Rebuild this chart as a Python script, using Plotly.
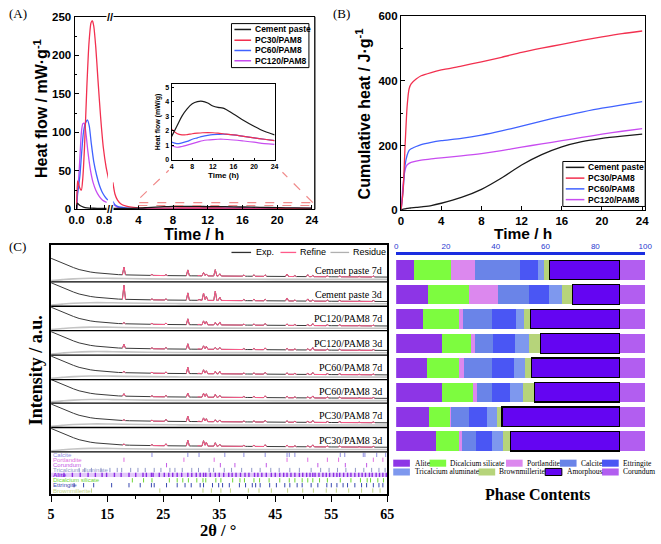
import numpy as np
import plotly.graph_objects as go

W, H = 661, 544
def px(x): return x / W
def py(y): return 1 - y / H

SANS = "Liberation Sans"
SERIF = "Liberation Serif"

# ---------------- Panel A / B series ----------------
SERIES = ["Cement paste", "PC30/PAM8", "PC60/PAM8", "PC120/PAM8"]
SERIES_COLORS = ["#1a1a1a", "#f2304f", "#4062ff", "#c84cf0"]

# (A) heat flow, early part (time in h, mW/g)
A_EARLY_T_CEM = [0, 0.02, 0.05, 0.1, 0.2, 0.3, 0.5, 0.7, 0.94]
A_EARLY_CEM = [0, 8, 7, 5, 3, 2, 1.5, 1.3, 1.2]
A_EARLY_T_PC30 = [0, 0.01, 0.03, 0.06, 0.1, 0.14, 0.18, 0.23, 0.3, 0.36, 0.42, 0.46, 0.5, 0.56, 0.62, 0.7, 0.78, 0.86, 0.94]
A_EARLY_PC30 = [0, 20, 37, 33, 27, 25, 40, 80, 160, 215, 242, 245, 238, 210, 170, 120, 80, 55, 38]
A_EARLY_T_PC60 = [0, 0.03, 0.06, 0.1, 0.15, 0.2, 0.26, 0.32, 0.37, 0.43, 0.5, 0.58, 0.66, 0.74, 0.82, 0.91]
A_EARLY_PC60 = [0, 20, 30, 45, 75, 100, 112, 116, 108, 85, 62, 45, 32, 23, 17, 12]
A_EARLY_T_PC120 = [0, 0.03, 0.06, 0.1, 0.14, 0.18, 0.22, 0.27, 0.33, 0.4, 0.48, 0.56, 0.66, 0.76, 0.88]
A_EARLY_PC120 = [0, 25, 40, 70, 100, 111, 112, 100, 75, 52, 35, 25, 17, 12, 9]

# (A) heat flow, later part (time in h, mW/g) -- also shown in the inset
A_LATE_T = [1.06, 1.3, 1.6, 2, 2.5, 3, 4, 5, 6, 7, 8, 9, 10, 11, 12, 13, 14, 16, 18, 20, 22, 24]
A_LATE_CEM = [1.2, 1.2, 1.25, 1.3, 1.35, 1.45, 1.6, 2.3, 3.0, 3.5, 3.85, 4.0, 4.02, 3.9, 3.7, 3.6, 3.55, 3.15, 2.7, 2.3, 1.95, 1.7]
A_LATE_PC30 = [35, 20, 12, 7, 4.5, 3.2, 2.1, 1.8, 1.7, 1.72, 1.78, 1.82, 1.85, 1.86, 1.85, 1.82, 1.78, 1.7, 1.6, 1.5, 1.4, 1.3]
A_LATE_PC60 = [10, 6, 4, 2.8, 2, 1.6, 1.2, 1.1, 1.15, 1.25, 1.4, 1.5, 1.6, 1.67, 1.72, 1.74, 1.75, 1.7, 1.6, 1.5, 1.4, 1.3]
A_LATE_PC120 = [8, 5, 3, 2, 1.4, 1.15, 0.95, 0.85, 0.9, 1.0, 1.1, 1.2, 1.3, 1.35, 1.38, 1.4, 1.4, 1.35, 1.28, 1.2, 1.1, 1.05]

# (B) cumulative heat (J/g)
B_T = [0, 0.2, 0.4, 0.6, 0.8, 1, 1.5, 2, 3, 4, 6, 8, 10, 12, 14, 16, 18, 20, 22, 24]
B_CEM = [0, 4, 5, 6, 7, 7.5, 9, 11, 15, 22, 40, 65, 100, 140, 172, 196, 212, 222, 229, 235]
B_PC30 = [0, 60, 200, 320, 375, 390, 405, 415, 425, 433, 445, 458, 472, 487, 500, 512, 524, 535, 545, 553]
B_PC60 = [0, 60, 140, 170, 185, 190, 197, 203, 210, 215, 222, 232, 245, 260, 275, 290, 303, 315, 325, 335]
B_PC120 = [0, 80, 125, 140, 145, 148, 152, 155, 159, 162, 168, 175, 184, 195, 205, 215, 225, 235, 244, 252]

# ---------------- Panel C: XRD ----------------
XRD_LABELS = ["Cement paste 7d", "Cement paste 3d", "PC120/PAM8 7d", "PC120/PAM8 3d",
              "PC60/PAM8 7d", "PC60/PAM8 3d", "PC30/PAM8 7d", "PC30/PAM8 3d"]
XRD_OFFSET = [217, 192, 167, 142, 117, 93, 68, 43]
BG_2T = [5, 6, 7, 8, 9, 10, 11, 12, 13, 14, 15, 17, 19, 22, 26, 30, 35, 40, 45, 50, 55, 60, 65]
BG_LEVEL = [24, 21.5, 19, 16.5, 14.5, 12.5, 11, 10, 9.2, 8.6, 8, 7.3, 6.9, 6.6, 6.3, 6.1, 5.9, 5.7, 5.5, 5.3, 5.1, 5.0, 4.8]
RES_2T = [5, 7, 9, 12, 15, 18, 22, 28, 35, 45, 55, 65]
RES_LEVEL = [1.2, 2.2, 3.0, 3.6, 3.6, 3.3, 3.0, 2.7, 2.6, 2.5, 2.5, 2.5]
PEAK_POS = [18.0, 23.0, 25.5, 29.4, 31.4, 32.2, 32.7, 34.3, 35.1, 36.0, 39.4, 41.2, 43.2, 47.1, 48.5, 50.8, 51.7, 54.3, 56.5, 60.0, 62.5]
PEAKS_CEM7 = [8, 1, 1, 6, 0.5, 3.5, 2, 6.5, 2.3, 0.5, 1.2, 1.5, 1.5, 2.5, 1, 2, 1.2, 1, 1, 0.6, 1]
PEAKS_CEM3 = [14.5, 1, 1.2, 7.5, 0.8, 7.5, 4, 9.5, 3.5, 0.6, 1.2, 1.5, 1.5, 3, 1, 2.2, 1.2, 1.2, 1, 0.6, 1]
PEAKS_PC120_7 = [1.2, 1, 1.5, 6, 0.5, 4, 3.5, 2.5, 3, 0.5, 1, 1.2, 1.8, 1.5, 1, 1, 2, 1, 1, 0.5, 0.8]
PEAKS_PC120_3 = [4, 1, 1.5, 5.5, 0.5, 3.5, 3, 2, 2, 0.5, 1, 1.2, 1.8, 1.5, 1, 1.2, 2.5, 1, 1, 0.5, 0.8]
PEAKS_PC60_7 = [1.2, 1, 1.5, 6.5, 0.5, 4, 3, 2.5, 2.5, 0.5, 1, 1.2, 1.8, 1.5, 1, 1, 2, 1, 1, 0.5, 0.8]
PEAKS_PC60_3 = [2.5, 1, 1.5, 4, 0.5, 4, 3.5, 3, 2, 0.5, 1, 1.2, 1.8, 1.5, 1, 1, 2, 1, 1, 0.5, 0.8]
PEAKS_PC30_7 = [0.8, 1, 2, 5.5, 0.5, 3.8, 3, 2, 1.8, 0.5, 1, 1.2, 1.8, 1.5, 1, 1, 2, 1, 1, 0.5, 0.8]
PEAKS_PC30_3 = [1, 1, 2, 5.8, 0.5, 5.5, 4, 3.5, 2, 0.5, 1, 1.2, 1.8, 1.5, 1, 1, 2, 1, 1, 0.5, 0.8]
XRD_PEAKS = [PEAKS_CEM7, PEAKS_CEM3, PEAKS_PC120_7, PEAKS_PC120_3,
             PEAKS_PC60_7, PEAKS_PC60_3, PEAKS_PC30_7, PEAKS_PC30_3]

# reflection positions (2theta) of the phases
PHASE_TICK_NAMES = ["Calcite", "Portlandite", "Corundum", "Tricalcium aluminate",
                    "Alite", "Dicalcium silicate", "Ettringite", "Brownmillerite"]
PHASE_TICK_COLORS = ["#8c8ce0", "#e070e0", "#c258e6", "#8f98c8",
                     "#8a2be2", "#6fd635", "#3848b0", "#c2d488"]
POS_CALCITE = [23.0, 29.4, 31.4, 36.0, 39.4, 43.2, 47.1, 47.5, 48.5, 56.6, 57.4, 60.7, 61.0, 63.1, 64.7]
POS_PORTLANDITE = [18.0, 28.7, 34.1, 47.1, 50.8, 54.3, 56.3, 62.5, 64.2]
POS_CORUNDUM = [25.6, 35.2, 37.8, 43.4, 52.6, 57.5, 61.3]
POS_C3A = [10.0, 11.0, 12.2, 13.9, 15.5, 16.8, 17.6, 19.2, 20.5, 21.8, 23.4, 24.6, 26.2, 27.1, 28.4, 30.1,
           31.3, 33.2, 34.0, 35.9, 37.2, 39.0, 40.8, 42.3, 44.2, 45.7, 47.6, 49.3, 51.4, 53.1, 54.6, 56.1,
           57.6, 59.3, 60.8, 62.2, 63.5, 64.6]
POS_ALITE = [7.3, 8.8, 10.2, 11.6, 12.9, 14.1, 14.9, 16.3, 17.5, 18.9, 20.1, 21.4, 22.0, 22.9, 23.2, 24.3,
             25.2, 26.0, 26.7, 27.5, 28.3, 29.4, 30.1, 30.9, 31.6, 32.2, 32.6, 33.4, 34.3, 35.0, 35.8, 36.7,
             37.3, 38.0, 38.8, 39.6, 40.3, 41.3, 41.9, 42.6, 43.4, 44.3, 45.0, 45.8, 46.5, 47.1, 47.8, 48.5,
             49.3, 49.9, 50.6, 51.2, 51.7, 52.1, 52.8, 53.5, 54.1, 54.7, 55.4, 56.0, 56.5, 57.2, 57.9, 58.5,
             59.2, 59.9, 60.5, 61.1, 61.8, 62.3, 63.0, 63.6, 64.2, 64.8]
POS_C2S = [19.5, 21.5, 23.0, 26.1, 27.5, 28.5, 29.5, 31.0, 32.1, 32.6, 34.4, 35.3, 37.4, 38.7, 39.5, 41.2,
           42.2, 43.9, 45.8, 47.5, 48.5, 49.8, 50.8, 51.7, 52.9, 54.3, 56.6, 58.5, 60.2, 61.4, 62.0, 63.3, 64.3]
POS_ETTRINGITE = [9.1, 10.8, 12.6, 15.8, 18.9, 20.9, 22.9, 23.4, 25.6, 27.5, 28.9, 30.0, 31.6, 32.2, 33.8,
                  34.9, 35.6, 36.8, 38.6, 39.7, 40.9, 41.5, 42.3, 44.0, 45.2, 46.7, 47.6, 48.9, 49.8, 51.4,
                  52.6, 54.2, 55.0, 56.0, 57.1, 57.9, 59.2, 60.4, 61.3, 62.5, 63.5, 64.2]
POS_C4AF = [12.2, 24.4, 32.1, 33.6, 35.3, 37.0, 40.2, 42.1, 44.3, 47.2, 49.9, 51.8, 54.1, 55.9, 58.1,
            60.4, 62.4, 63.7]
PHASE_TICK_POS = [POS_CALCITE, POS_PORTLANDITE, POS_CORUNDUM, POS_C3A,
                  POS_ALITE, POS_C2S, POS_ETTRINGITE, POS_C4AF]
PHASE_TICK_Y = [40, 35, 29.5, 24.5, 19.5, 14, 9, 3.5]

# ---------------- Panel C: phase contents (wt.%) ----------------
PHASES = ["Alite", "Dicalcium silicate", "Portlandite", "Calcite", "Ettringite",
          "Tricalcium aluminate", "Brownmillerite", "Amorphous", "Corundum"]
PHASE_COLORS = ["#8d35e6", "#7dfc3f", "#dc88ee", "#6a84e8", "#4a56f4",
                "#7e98ee", "#b6d47a", "#6405f2", "#b25ef0"]
PC_ALITE = [7.3, 12.9, 10.9, 18.4, 12.3, 18.5, 13.0, 16.1]
PC_C2S = [14.7, 16.2, 14.2, 11.5, 13.0, 12.2, 8.8, 9.1]
PC_PORTLANDITE = [9.6, 11.7, 1.7, 1.7, 2.1, 1.6, 0.3, 1.2]
PC_CALCITE = [18.0, 12.7, 11.8, 7.2, 11.2, 6.2, 7.2, 5.5]
PC_ETTRINGITE = [7.4, 7.9, 9.7, 9.0, 8.8, 7.2, 7.3, 6.7]
PC_C3A = [2.2, 5.0, 3.1, 5.5, 4.3, 5.2, 3.8, 4.2]
PC_C4AF = [2.4, 4.5, 2.5, 4.6, 2.6, 4.5, 2.1, 3.0]
PC_AMORPHOUS = [28.2, 18.9, 35.9, 31.9, 35.5, 34.4, 47.3, 44.0]
PC_CORUNDUM = [10.2, 10.2, 10.2, 10.2, 10.2, 10.2, 10.2, 10.2]
PHASE_VALUES = [PC_ALITE, PC_C2S, PC_PORTLANDITE, PC_CALCITE, PC_ETTRINGITE,
                PC_C3A, PC_C4AF, PC_AMORPHOUS, PC_CORUNDUM]

fig = go.Figure()

# ---- Panel A traces
early = [(A_EARLY_T_CEM, A_EARLY_CEM), (A_EARLY_T_PC30, A_EARLY_PC30),
         (A_EARLY_T_PC60, A_EARLY_PC60), (A_EARLY_T_PC120, A_EARLY_PC120)]
late = [A_LATE_CEM, A_LATE_PC30, A_LATE_PC60, A_LATE_PC120]
for i in [3, 2, 1, 0]:
    t, v = early[i]
    fig.add_trace(go.Scatter(x=t, y=v, mode="lines", xaxis="x", yaxis="y",
                             line=dict(color=SERIES_COLORS[i], width=1.3, shape="spline", smoothing=0.6),
                             showlegend=False))
    fig.add_trace(go.Scatter(x=A_LATE_T, y=late[i], mode="lines", xaxis="x2", yaxis="y",
                             line=dict(color=SERIES_COLORS[i], width=1.3, shape="spline", smoothing=0.6),
                             showlegend=False))
# inset
tl = np.array(A_LATE_T)
mask = tl >= 4
for i in [3, 2, 1, 0]:
    fig.add_trace(go.Scatter(x=tl[mask], y=np.array(late[i])[mask], mode="lines", xaxis="x3", yaxis="y3",
                             line=dict(color=SERIES_COLORS[i], width=1.2, shape="spline"),
                             showlegend=False))

# ---- Panel B traces
bvals = [B_CEM, B_PC30, B_PC60, B_PC120]
for i in [3, 2, 1, 0]:
    fig.add_trace(go.Scatter(x=B_T, y=bvals[i], mode="lines", xaxis="x4", yaxis="y4",
                             line=dict(color=SERIES_COLORS[i], width=1.3, shape="spline", smoothing=0.6),
                             showlegend=False))

# ---- Panel C XRD traces
PEAK_HALF = 0.28
def xrd_curve(heights):
    xs = set(BG_2T)
    for p in PEAK_POS:
        xs.update([p - PEAK_HALF, p, p + PEAK_HALF])
    xs = np.array(sorted(x for x in xs if 5 <= x <= 65))
    bg = np.interp(xs, BG_2T, BG_LEVEL)
    ys = bg.copy()
    for p, h in zip(PEAK_POS, heights):
        ys = ys + h * np.clip(1 - np.abs(xs - p) / PEAK_HALF, 0, None)
    return xs, ys, bg

for k in range(8):
    off = XRD_OFFSET[k]
    fig.add_trace(go.Scatter(x=RES_2T, y=np.array(RES_LEVEL) + off, mode="lines", xaxis="x5", yaxis="y5",
                             line=dict(color="#c4c4c4", width=1.6, shape="spline"), showlegend=False))
    xs, ys, bg = xrd_curve(XRD_PEAKS[k])
    fig.add_trace(go.Scatter(x=xs, y=ys + off, mode="lines", xaxis="x5", yaxis="y5",
                             line=dict(color="#3a3a3a", width=1.0), showlegend=False))
    # refined profile highlighted over the reflections
    near = np.zeros(len(xs), dtype=bool)
    for p in PEAK_POS:
        near |= np.abs(xs - p) <= PEAK_HALF + 1e-9
    ry = np.where(near, ys + off, None)
    fig.add_trace(go.Scatter(x=xs, y=ry, mode="lines", xaxis="x5", yaxis="y5", connectgaps=False,
                             line=dict(color="#ff5a8a", width=1.0), showlegend=False))

# phase reflection ticks
shapes = []
annotations = []
shapes.append(dict(type="rect", xref="x5", yref="y5", x0=5, x1=65, y0=17.3, y1=21.7,
                   fillcolor="#e2c8fa", line=dict(width=0), layer="below"))
for name, col, pos, yc in zip(PHASE_TICK_NAMES, PHASE_TICK_COLORS, PHASE_TICK_POS, PHASE_TICK_Y):
    xx, yy = [], []
    for p in pos:
        xx += [p, p, None]
        yy += [yc - 2.2, yc + 2.2, None]
    fig.add_trace(go.Scatter(x=xx, y=yy, mode="lines", xaxis="x5", yaxis="y5",
                             line=dict(color=col, width=1.4 if name == "Alite" else 1),
                             showlegend=False))

# ---- Panel C phase bars
for name, col, vals in zip(PHASES, PHASE_COLORS, PHASE_VALUES):
    fig.add_trace(go.Bar(x=vals, y=XRD_LABELS, orientation="h", xaxis="x6", yaxis="y6",
                         marker=dict(color=col,
                                     line=dict(color="black" if name == "Amorphous" else col,
                                               width=1.2 if name == "Amorphous" else 0)),
                         width=0.8, showlegend=False))

# ---------------- Layout ----------------
bold_sans = dict(family=SANS, size=11.5, color="black", weight="bold")
axis_common = dict(showline=True, linecolor="black", linewidth=1.3, showgrid=False, zeroline=False,
                   ticks="inside", ticklen=4, tickcolor="black", tickfont=bold_sans)

layout = dict(
    width=W, height=H, autosize=False, margin=dict(l=0, r=0, t=0, b=0),
    paper_bgcolor="white", plot_bgcolor="white", barmode="stack", bargap=0.2,
    xaxis=dict(axis_common, domain=[px(70), px(104)], range=[-0.057, 0.914], anchor="y",
               tickvals=[0, 0.4, 0.8], ticktext=["0.0", " ", "0.8"], mirror=True),
    xaxis2=dict(axis_common, domain=[px(109), px(315)], range=[1.06, 24.34], anchor="y",
                tickvals=[4, 8, 12, 16, 20, 24], mirror=True),
    yaxis=dict(axis_common, domain=[py(208), py(11)], range=[0, 250], anchor="x",
               tickvals=[0, 50, 100, 150, 200, 250],
               minor=dict(dtick=25, ticklen=2, ticks="inside", tickcolor="black")),
    xaxis3=dict(axis_common, domain=[px(169), px(274)], range=[4, 24], anchor="y3",
                tickvals=[4, 8, 12, 16, 20, 24], mirror=True, ticklen=2, linewidth=1,
                tickfont=dict(family=SANS, size=7, color="black", weight="bold")),
    yaxis3=dict(axis_common, domain=[py(157), py(80)], range=[0, 5.2], anchor="x3",
                tickvals=[0, 1, 2, 3, 4, 5], mirror=True, ticklen=2, linewidth=1,
                tickfont=dict(family=SANS, size=7, color="black", weight="bold")),
    xaxis4=dict(axis_common, domain=[px(403), px(652)], range=[0, 24.3], anchor="y4",
                tickvals=[0, 4, 8, 12, 16, 20, 24], mirror=True),
    yaxis4=dict(axis_common, domain=[py(209), py(10)], range=[0, 600], anchor="x4",
                tickvals=[0, 200, 400, 600], mirror=True,
                minor=dict(dtick=100, ticklen=2, ticks="inside", tickcolor="black")),
    xaxis5=dict(showline=True, linecolor="black", linewidth=1.5, mirror=True, showgrid=False,
                zeroline=False, domain=[px(46), px(389)], range=[5, 65], anchor="y5",
                tickvals=[5, 15, 25, 35, 45, 55, 65], ticks="outside", ticklen=6, tickcolor="black",
                minor=dict(dtick=5, ticklen=3, ticks="outside", tickcolor="black"),
                tickfont=dict(family=SERIF, size=14, color="black", weight="bold")),
    yaxis5=dict(showline=True, linecolor="black", linewidth=1.5, mirror=True, showgrid=False,
                zeroline=False, domain=[py(499), py(244)], range=[0, 255], anchor="x5",
                showticklabels=False, ticks=""),
    xaxis6=dict(domain=[px(398), px(652)], range=[0, 100], anchor="y6", side="top",
                tickvals=[0, 20, 40, 60, 80, 100], showline=True, linecolor="#1a2de0", linewidth=3,
                showgrid=False, zeroline=False, ticks="",
                tickfont=dict(family=SANS, size=8, color="#2a3ad0")),
    yaxis6=dict(domain=[py(457.5), py(255)], range=[7.5, -0.6], anchor="x6", visible=False,
                type="category", categoryorder="array", categoryarray=XRD_LABELS),
)

def note(x, y, text, font, angle=0, xanchor="center", yanchor="middle", **kw):
    d = dict(xref="paper", yref="paper", x=px(x), y=py(y), text=text, showarrow=False,
             font=font, textangle=angle, xanchor=xanchor, yanchor=yanchor)
    d.update(kw)
    annotations.append(d)

# panel A right border and broken-axis marks
shapes.append(dict(type="line", xref="paper", yref="paper", x0=px(315), x1=px(315), y0=py(11), y1=py(208),
                   line=dict(color="black", width=1.3)))
for yy in (11, 208):
    note(106.5, yy, "<b>//</b>", dict(family=SANS, size=11, color="black"), bgcolor="white", borderpad=0)
# zoom box and dashed connector lines
dash_col = "#f08a8a"
shapes.append(dict(type="rect", xref="paper", yref="paper", x0=px(135), x1=px(313), y0=py(204), y1=py(201),
                   line=dict(color=dash_col, width=1.2, dash="dash")))
shapes.append(dict(type="line", xref="paper", yref="paper", x0=px(137), y0=py(196), x1=px(166), y1=py(168),
                   line=dict(color=dash_col, width=1.2, dash="dash")))
shapes.append(dict(type="line", xref="paper", yref="paper", x0=px(313), y0=py(201), x1=px(282), y1=py(170),
                   line=dict(color=dash_col, width=1.2, dash="dash")))

# manual legends for A and B
def heat_legend(x0, y0, x1, y1, rows, line_x0, line_x1, text_x):
    shapes.append(dict(type="rect", xref="paper", yref="paper", x0=px(x0), x1=px(x1), y0=py(y1), y1=py(y0),
                       line=dict(color="black", width=1), fillcolor="white", layer="above"))
    for i, yy in enumerate(rows):
        shapes.append(dict(type="line", xref="paper", yref="paper", x0=px(line_x0), x1=px(line_x1),
                           y0=py(yy), y1=py(yy), line=dict(color=SERIES_COLORS[i], width=1.5)))
        note(text_x, yy, SERIES[i], dict(family=SANS, size=8.5, color="black", weight="bold"), xanchor="left")

heat_legend(230, 18, 309, 63, [24, 35, 45.5, 56], 233, 250, 252)
heat_legend(568, 159, 652, 205, [165, 176, 187, 198], 571, 590, 592)

# axis titles
note(35, 105, "Heat flow / mW·g<sup>-1</sup>", dict(family=SANS, size=16, color="black", weight="bold"), angle=-90)
note(192, 233.5, "Time / h", dict(family=SANS, size=16, color="black", weight="bold"), borderpad=0)
note(155, 118, "Heat flow (mW/g)", dict(family=SANS, size=7, color="black", weight="bold"), angle=-90)
note(222, 173, "Time (h)", dict(family=SANS, size=8, color="black", weight="bold"))
note(364, 110, "Cumulative heat / J·g<sup>-1</sup>", dict(family=SANS, size=16, color="black", weight="bold"), angle=-90)
note(527, 233, "Time / h", dict(family=SANS, size=15.5, color="black", weight="bold"), borderpad=0)
note(30, 372, "Intensity / a.u.", dict(family=SERIF, size=18, color="black", weight="bold"), angle=-90)
note(216, 536, "2θ / °", dict(family=SERIF, size=16.5, color="black", weight="bold"), borderpad=0)
note(542, 500, "Phase Contents", dict(family=SERIF, size=16, color="black", weight="bold"))
for lab, xx, yy in [("(A)", 12, 8), ("(B)", 342, 8), ("(C)", 12, 246)]:
    note(xx, yy, lab, dict(family=SERIF, size=13, color="black"))

# XRD row separators and labels
for k, off in enumerate(XRD_OFFSET):
    shapes.append(dict(type="line", xref="x5", yref="y5", x0=5, x1=65, y0=off, y1=off,
                       line=dict(color="black", width=1.3)))
    annotations.append(dict(xref="paper", yref="y5", x=px(386), y=off + 12, text=XRD_LABELS[k],
                            showarrow=False, xanchor="right", yanchor="middle",
                            font=dict(family=SERIF, size=10, color="black")))
# phase tick labels
for name, col, yc in zip(PHASE_TICK_NAMES, PHASE_TICK_COLORS, PHASE_TICK_Y):
    annotations.append(dict(xref="paper", yref="y5", x=px(47), y=yc, text=name, showarrow=False,
                            xanchor="left", yanchor="middle", borderpad=0,
                            font=dict(family=SANS, size=6, color=col,
                                      weight="bold" if name == "Alite" else "normal")))
# XRD legend
for (lx0, lx1, col, tx, txt) in [(230, 250, "#303030", 253, "Exp."), (280, 296, "#ff5a8a", 298, "Refine"),
                                  (331, 350, "#b0b0b0", 352, "Residue")]:
    shapes.append(dict(type="line", xref="paper", yref="paper", x0=px(lx0), x1=px(lx1), y0=py(252), y1=py(252),
                       line=dict(color=col, width=1.3)))
    note(tx, 252, txt, dict(family=SANS, size=9, color="black"), xanchor="left")

# phase bar legend
LEG_X = [(395, 415), (432, 451), (510, 529), (565, 584), (608, 627),
         (395, 415), (482, 501), (550, 570), (608, 627)]
LEG_Y = [467.5] * 5 + [476.5] * 4
for name, col, (sx, tx), yy in zip(PHASES, PHASE_COLORS, LEG_X, LEG_Y):
    shapes.append(dict(type="rect", xref="paper", yref="paper", x0=px(sx), x1=px(sx + 17),
                       y0=py(yy + 3.6), y1=py(yy - 3.6), fillcolor=col,
                       line=dict(color="black" if name == "Amorphous" else col, width=1 if name == "Amorphous" else 0)))
    note(tx, yy, name, dict(family=SERIF, size=7.5, color="black"), xanchor="left")

layout["shapes"] = shapes
layout["annotations"] = annotations
fig.update_layout(**layout)
fig.write_html("out.html")
